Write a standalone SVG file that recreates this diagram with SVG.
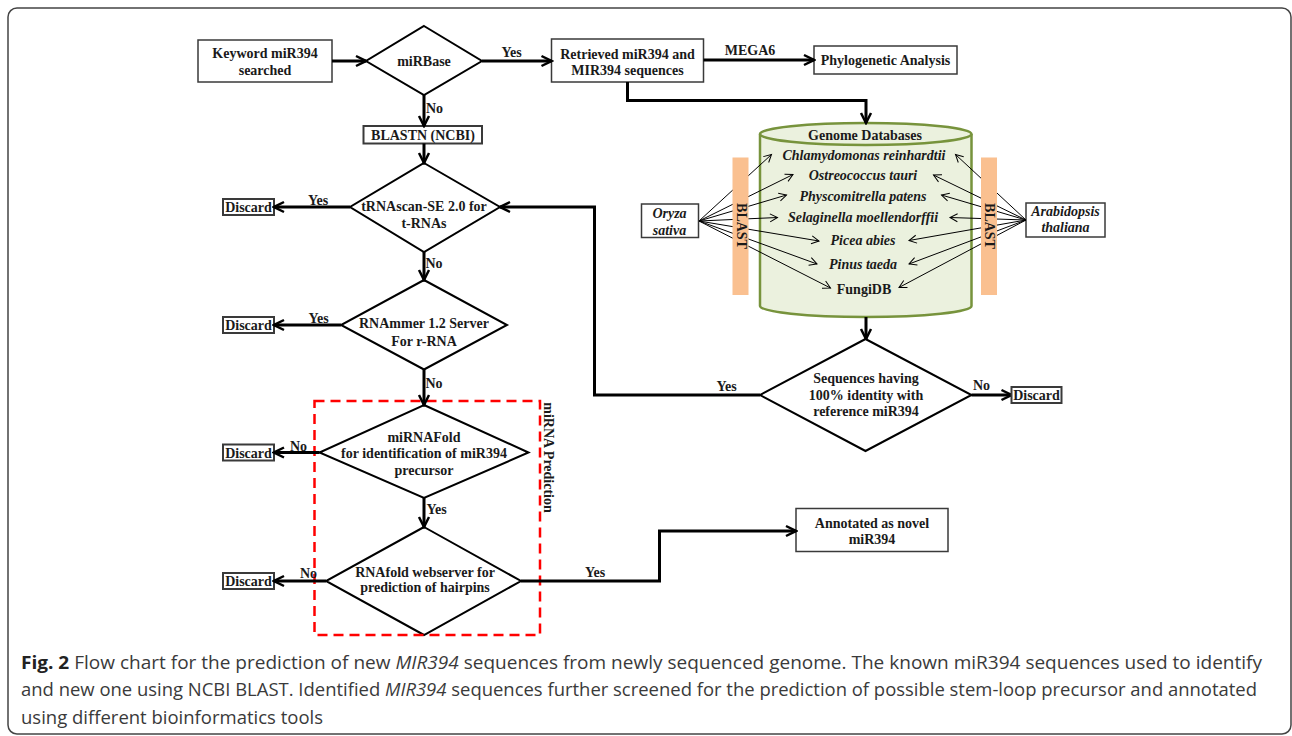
<svg xmlns="http://www.w3.org/2000/svg" width="1292" height="736" viewBox="0 0 1292 736">
<style>
.box{fill:#fff;stroke:#3a3a3a;stroke-width:1.5}
.dbox{fill:#fff;stroke:#3a3a3a;stroke-width:2}
.dia{fill:#fff;stroke:#000;stroke-width:2}
.t{font-family:"Liberation Serif","Times New Roman",serif;font-weight:bold;font-size:14px;fill:#1a1a1a;text-anchor:middle}
.i{font-style:italic}
.conn{fill:none;stroke:#000;stroke-width:3;marker-end:url(#ah)}
.thin{fill:none;stroke:#000;stroke-width:1;marker-end:url(#th)}
.bar{fill:#fac090;stroke:none}
.cyl{fill:#ebf1de;stroke:#77933c;stroke-width:2.5}
.cap{font-family:"Open Sans","Noto Sans",sans-serif;font-size:18px;fill:#3a3a3a}
</style>
<defs>
<marker id="ah" markerUnits="userSpaceOnUse" markerWidth="14" markerHeight="14" viewBox="0 0 14 14" refX="12" refY="7" orient="auto">
<path d="M2,2 L12,7 L2,12" fill="none" stroke="#000" stroke-width="2.5"/>
</marker>
<marker id="th" markerUnits="userSpaceOnUse" markerWidth="10" markerHeight="10" viewBox="0 0 10 10" refX="8.5" refY="5" orient="auto">
<path d="M1,1 L8.5,5 L1,9" fill="none" stroke="#000" stroke-width="1"/>
</marker>
</defs>
<rect x="0" y="0" width="1292" height="736" fill="#fff"/>
<rect id="frame" x="8" y="8" width="1283" height="726" rx="9" fill="none" stroke="#444" stroke-width="1.5"/>

<g id="n-keyword"><rect class="box" x="198" y="40" width="134" height="42"/><text class="t" x="265" y="57.5">Keyword miR394</text><text class="t" x="265" y="74.5">searched</text></g>
<g id="n-mirbase"><polygon class="dia" points="424,26 482,61 424,95 366,61"/><text class="t" x="424" y="66">miRBase</text></g>
<g id="n-retrieved"><rect class="box" x="551.5" y="39" width="152" height="43"/><text class="t" x="627.5" y="58.5">Retrieved miR394 and</text><text class="t" x="627.5" y="75">MIR394 sequences</text></g>
<g id="n-phylo"><rect class="box" x="814" y="46" width="143" height="28"/><text class="t" x="885.5" y="65">Phylogenetic Analysis</text></g>
<g id="n-blastn"><rect class="dbox" x="363.5" y="126" width="118.5" height="17.5"/><text class="t" x="423" y="140">BLASTN (NCBI)</text></g>
<g id="n-trnascan"><polygon class="dia" points="424,163 500,207 424,252 350,207"/><text class="t" x="424" y="211">tRNAscan-SE 2.0 for</text><text class="t" x="424" y="227.5">t-RNAs</text></g>
<g id="n-discard1"><rect class="dbox" x="223" y="199" width="51" height="16"/><text class="t" x="248.5" y="212">Discard</text></g>
<g id="n-rnammer"><polygon class="dia" points="424,280 507,325 424,369.5 341,325"/><text class="t" x="424" y="328">RNAmmer 1.2 Server</text><text class="t" x="424" y="345.5">For r-RNA</text></g>
<g id="n-discard2"><rect class="dbox" x="223" y="317" width="51" height="16"/><text class="t" x="248.5" y="330">Discard</text></g>
<g id="n-mirnafold"><polygon class="dia" points="424,405 528.5,452.5 424,498 319.5,452.5"/><text class="t" x="424" y="441.5">miRNAFold</text><text class="t" x="424" y="458">for identification of miR394</text><text class="t" x="424" y="474.5">precursor</text></g>
<g id="n-discard3"><rect class="dbox" x="223" y="444.5" width="51" height="16"/><text class="t" x="248.5" y="457.5">Discard</text></g>
<g id="n-rnafold"><polygon class="dia" points="424,527 521,581 424,635 326,581"/><text class="t" x="425" y="577">RNAfold webserver for</text><text class="t" x="425" y="592">prediction of hairpins</text></g>
<g id="n-discard4"><rect class="dbox" x="223" y="573" width="51" height="16"/><text class="t" x="248.5" y="586">Discard</text></g>
<g id="n-annotated"><rect class="box" x="796" y="508.5" width="152" height="43"/><text class="t" x="872" y="527.5">Annotated as novel</text><text class="t" x="872" y="544">miR394</text></g>
<g id="n-prediction"><rect x="314.5" y="401" width="225.5" height="234" fill="none" stroke="#ff0000" stroke-width="2.5" stroke-dasharray="10,6"/><text class="t" transform="translate(543.5,457.5) rotate(90)" x="0" y="0">miRNA Prediction</text></g>

<g id="n-genomedb">
<path class="cyl" d="M760,134 V306 A105.75,11 0 0 0 971.5,306 V134"/>
<ellipse class="cyl" cx="865.75" cy="134" rx="105.75" ry="11"/>
<text class="t" x="865" y="139.5">Genome Databases</text>
</g>
<g id="n-oryza"><rect class="box" x="641.5" y="204" width="57" height="33.5"/><text class="t i" x="669.5" y="218">Oryza</text><text class="t i" x="669.5" y="234.5">sativa</text></g>
<g id="n-arabidopsis"><rect class="box" x="1026" y="203" width="79" height="34"/><text class="t i" x="1065.5" y="215.5">Arabidopsis</text><text class="t i" x="1065.5" y="232">thaliana</text></g>

<g id="connectors">
<path class="conn" d="M332,61 H366"/>
<path class="conn" d="M482,61 H551.5"/>
<path class="conn" d="M703.5,60 H814"/>
<path class="conn" d="M424,95 V126"/>
<path class="conn" d="M424,143.5 V163"/>
<path class="conn" d="M350,207 H274"/>
<path class="conn" d="M424,252 V280"/>
<path class="conn" d="M341,325 H274"/>
<path class="conn" d="M424,369.5 V405"/>
<path class="conn" d="M319.5,452.5 H274"/>
<path class="conn" d="M424,498 V527"/>
<path class="conn" d="M326,581 H274"/>
<path class="conn" d="M521,581 H659.5 V531 H796"/>
<path class="conn" d="M627.5,82 V100.5 H866 V123"/>
<path class="conn" d="M866,317 V339"/>
<path class="conn" d="M971.5,395 H1011.5"/>
<path class="conn" d="M760,395 H594.5 V207 H500"/>
<g id="blast-arrows">
<path class="thin" d="M699,221 L771.5,154.5"/>
<path class="thin" d="M699,221 L793,174.5"/>
<path class="thin" d="M699,221 L786.5,195"/>
<path class="thin" d="M699,221 L777.5,217.5"/>
<path class="thin" d="M699,221 L819,241"/>
<path class="thin" d="M699,221 L817,264"/>
<path class="thin" d="M699,221 L830.5,288"/>
<path class="thin" d="M1026,220 L955.5,154.5"/>
<path class="thin" d="M1026,220 L933.5,175"/>
<path class="thin" d="M1026,220 L941.5,195"/>
<path class="thin" d="M1026,220 L950,217.5"/>
<path class="thin" d="M1026,220 L909,240.5"/>
<path class="thin" d="M1026,220 L909,264"/>
<path class="thin" d="M1026,220 L899,287.5"/>
</g>
<text class="t" x="511.5" y="56.5">Yes</text>
<text class="t" x="750" y="55">MEGA6</text>
<text class="t" x="434.5" y="113">No</text>
<text class="t" x="318" y="205">Yes</text>
<text class="t" x="434" y="267.5">No</text>
<text class="t" x="318.5" y="322.5">Yes</text>
<text class="t" x="434" y="387.5">No</text>
<text class="t" x="298.5" y="450.5">No</text>
<text class="t" x="436.5" y="514">Yes</text>
<text class="t" x="308.5" y="578">No</text>
<text class="t" x="595" y="576.5">Yes</text>
<text class="t" x="726.5" y="391">Yes</text>
<text class="t" x="981.5" y="390">No</text>
</g>

<g id="n-blast-left"><rect class="bar" x="732.5" y="157.5" width="16" height="137.5"/><text class="t" transform="translate(736.5,226) rotate(90)" x="0" y="0">BLAST</text></g>
<g id="n-blast-right"><rect class="bar" x="981" y="157.5" width="16" height="137.5"/><text class="t" transform="translate(984.5,226) rotate(90)" x="0" y="0">BLAST</text></g>

<g id="n-species">
<text class="t i" x="864" y="160">Chlamydomonas  reinhardtii</text>
<text class="t i" x="863" y="179.5">Ostreococcus tauri</text>
<text class="t i" x="863" y="200.5">Physcomitrella patens</text>
<text class="t i" x="863" y="222">Selaginella moellendorffii</text>
<text class="t i" x="863" y="245">Picea abies</text>
<text class="t i" x="863" y="268.5">Pinus taeda</text>
<text class="t" x="864" y="293.5">FungiDB</text>
</g>

<g id="n-discard5"><rect class="dbox" x="1011.5" y="387" width="50" height="16"/><text class="t" x="1036.5" y="400">Discard</text></g>
<g id="n-identity"><polygon class="dia" points="865.5,339 971.5,395 865.5,451 760,395"/><text class="t" x="866" y="383">Sequences having</text><text class="t" x="866" y="399.5">100% identity with</text><text class="t" x="866" y="416">reference miR394</text></g>

<g id="caption">
<text class="cap" x="21" y="668.5" textLength="1241" lengthAdjust="spacingAndGlyphs"><tspan font-weight="bold" fill="#222">Fig. 2</tspan> Flow chart for the prediction of new <tspan font-style="italic">MIR394</tspan> sequences from newly sequenced genome. The known miR394 sequences used to identify</text>
<text class="cap" x="21" y="696" textLength="1236" lengthAdjust="spacingAndGlyphs">and new one using NCBI BLAST. Identified <tspan font-style="italic">MIR394</tspan> sequences further screened for the prediction of possible stem-loop precursor and annotated</text>
<text class="cap" x="21" y="723.5" textLength="302" lengthAdjust="spacingAndGlyphs">using different bioinformatics tools</text>
</g>
</svg>
